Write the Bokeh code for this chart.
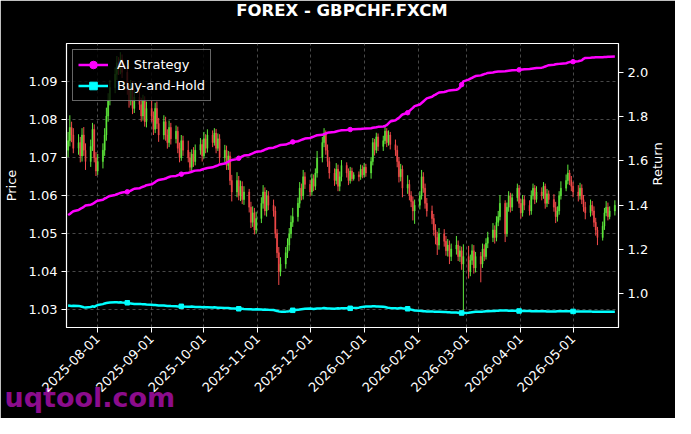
import numpy as np
import pandas as pd
from math import pi
from bokeh.plotting import figure
from bokeh.models import (Range1d, LinearAxis, FixedTicker, PrintfTickFormatter,
                          DatetimeTickFormatter, MonthsTicker, ColumnDataSource,
                          Legend, LegendItem, Title, Label)
from bokeh.embed import file_html
from bokeh.resources import INLINE

# ---------------- data ----------------
dates = pd.bdate_range("2025-07-15", "2026-05-25")

first_open = 1.0720
close = [
    1.0745, 1.0780, 1.0760, 1.0725,
    1.0740, 1.0705, 1.0760, 1.0720, 1.0690,
    1.0730, 1.0775, 1.0700, 1.0665, 1.0690,
    1.0720, 1.0760, 1.0810, 1.0850, 1.0885,
    1.0920, 1.0950, 1.0935, 1.0960, 1.0925,
    1.0880, 1.0850, 1.0890, 1.0830, 1.0860,
    1.0840, 1.0810, 1.0850, 1.0795, 1.0830,
    1.0810, 1.0775, 1.0830, 1.0790, 1.0760,
    1.0795, 1.0760, 1.0740, 1.0780, 1.0750,
    1.0770, 1.0725, 1.0700, 1.0745, 1.0720,
    1.0700, 1.0675, 1.0710, 1.0690, 1.0720,
    1.0735, 1.0705, 1.0750, 1.0725, 1.0760,
    1.0740, 1.0765, 1.0725, 1.0750, 1.0700,
    1.0720, 1.0680, 1.0705, 1.0640, 1.0610,
    1.0640, 1.0600, 1.0625, 1.0590, 1.0610,
    1.0570, 1.0530, 1.0555, 1.0510, 1.0540,
    1.0580, 1.0610, 1.0560, 1.0600, 1.0575,
    1.0560, 1.0500, 1.0450, 1.0400, 1.0420,
    1.0450, 1.0470, 1.0500, 1.0530, 1.0545,
    1.0580, 1.0620, 1.0600, 1.0650, 1.0630,
    1.0610, 1.0645, 1.0625, 1.0660, 1.0700,
    1.0740, 1.0765, 1.0720, 1.0690, 1.0660,
    1.0640, 1.0670, 1.0625, 1.0650, 1.0680,
    1.0660, 1.0640, 1.0665, 1.0645, 1.0655,
    1.0650, 1.0670, 1.0655, 1.0675, 1.0660,
    1.0690, 1.0740, 1.0720, 1.0755, 1.0730,
    1.0745, 1.0770, 1.0740, 1.0760, 1.0735,
    1.0720, 1.0690, 1.0650, 1.0670, 1.0620,
    1.0630, 1.0600, 1.0585, 1.0560, 1.0575,
    1.0600, 1.0650, 1.0620, 1.0580, 1.0560,
    1.0540, 1.0510, 1.0490, 1.0470, 1.0500,
    1.0480, 1.0455, 1.0470, 1.0440, 1.0460,
    1.0470, 1.0440, 1.0455, 1.0420, 1.0440,
    1.0400, 1.0430, 1.0455, 1.0410, 1.0440,
    1.0420, 1.0460, 1.0440, 1.0475, 1.0490,
    1.0510, 1.0490, 1.0530, 1.0545, 1.0580,
    1.0500, 1.0570, 1.0600, 1.0570, 1.0595,
    1.0620, 1.0580, 1.0555, 1.0590, 1.0575,
    1.0560, 1.0600, 1.0620, 1.0590, 1.0610,
    1.0600, 1.0625, 1.0580, 1.0605, 1.0590,
    1.0570, 1.0545, 1.0560, 1.0600, 1.0620,
    1.0640, 1.0660, 1.0640, 1.0625, 1.0610,
    1.0600, 1.0620, 1.0590, 1.0570, 1.0555,
    1.0575, 1.0560, 1.0530, 1.0510, 1.0490,
    1.0520, 1.0555, 1.0570, 1.0545, 1.0560,
    1.0575,
]
high = [
    1.0768, 1.0812, 1.0795, 1.0778,
    1.0762, 1.0755, 1.0778, 1.0781, 1.0738,
    1.0748, 1.0792, 1.0788, 1.0715, 1.0710,
    1.0738, 1.0778, 1.0832, 1.0870, 1.0905,
    1.0938, 1.0968, 1.0965, 1.0978, 1.0972,
    1.0940, 1.0895, 1.0905, 1.0902, 1.0878,
    1.0875, 1.0858, 1.0866, 1.0862, 1.0848,
    1.0852, 1.0822, 1.0845, 1.0848, 1.0805,
    1.0812, 1.0808, 1.0775, 1.0798, 1.0792,
    1.0785, 1.0782, 1.0740, 1.0760, 1.0758,
    1.0745, 1.0715, 1.0722, 1.0728, 1.0735,
    1.0752, 1.0748, 1.0768, 1.0762, 1.0775,
    1.0772, 1.0778, 1.0776, 1.0764, 1.0762,
    1.0734, 1.0732, 1.0718, 1.0716, 1.0655,
    1.0662, 1.0652, 1.0640, 1.0638, 1.0625,
    1.0618, 1.0584, 1.0572, 1.0568, 1.0558,
    1.0596, 1.0628, 1.0622, 1.0615, 1.0612,
    1.0590, 1.0572, 1.0512, 1.0465, 1.0438,
    1.0465, 1.0488, 1.0515, 1.0548, 1.0568,
    1.0595, 1.0636, 1.0632, 1.0668, 1.0662,
    1.0642, 1.0658, 1.0656, 1.0672, 1.0718,
    1.0755, 1.0778, 1.0772, 1.0735, 1.0702,
    1.0672, 1.0686, 1.0682, 1.0664, 1.0694,
    1.0688, 1.0672, 1.0676, 1.0674, 1.0662,
    1.0664, 1.0682, 1.0680, 1.0686, 1.0684,
    1.0702, 1.0752, 1.0750, 1.0766, 1.0764,
    1.0758, 1.0786, 1.0778, 1.0772, 1.0768,
    1.0748, 1.0732, 1.0702, 1.0684, 1.0680,
    1.0654, 1.0642, 1.0612, 1.0598, 1.0590,
    1.0612, 1.0668, 1.0662, 1.0632, 1.0594,
    1.0574, 1.0552, 1.0525, 1.0505, 1.0515,
    1.0512, 1.0494, 1.0486, 1.0482, 1.0474,
    1.0494, 1.0482, 1.0468, 1.0466, 1.0472,
    1.0468, 1.0445, 1.0472, 1.0470, 1.0452,
    1.0452, 1.0474, 1.0472, 1.0488, 1.0505,
    1.0528, 1.0522, 1.0546, 1.0560, 1.0602,
    1.0588, 1.0582, 1.0612, 1.0608, 1.0606,
    1.0632, 1.0628, 1.0592, 1.0602, 1.0600,
    1.0588, 1.0614, 1.0632, 1.0628, 1.0625,
    1.0622, 1.0636, 1.0632, 1.0618, 1.0614,
    1.0604, 1.0584, 1.0572, 1.0612, 1.0638,
    1.0656, 1.0682, 1.0668, 1.0652, 1.0636,
    1.0628, 1.0634, 1.0630, 1.0602, 1.0584,
    1.0590, 1.0586, 1.0572, 1.0542, 1.0518,
    1.0532, 1.0568, 1.0586, 1.0582, 1.0572,
    1.0588,
]
low = [
    1.0702, 1.0730, 1.0741, 1.0712,
    1.0708, 1.0688, 1.0690, 1.0705, 1.0668,
    1.0676, 1.0718, 1.0688, 1.0652, 1.0655,
    1.0672, 1.0705, 1.0745, 1.0795, 1.0838,
    1.0870, 1.0905, 1.0918, 1.0920, 1.0910,
    1.0866, 1.0832, 1.0838, 1.0815, 1.0818,
    1.0826, 1.0795, 1.0798, 1.0782, 1.0780,
    1.0795, 1.0760, 1.0765, 1.0776, 1.0742,
    1.0748, 1.0745, 1.0724, 1.0728, 1.0735,
    1.0738, 1.0712, 1.0688, 1.0692, 1.0705,
    1.0688, 1.0662, 1.0664, 1.0676, 1.0680,
    1.0708, 1.0690, 1.0698, 1.0712, 1.0714,
    1.0728, 1.0732, 1.0712, 1.0718, 1.0686,
    1.0688, 1.0668, 1.0668, 1.0628, 1.0585,
    1.0596, 1.0588, 1.0586, 1.0578, 1.0576,
    1.0556, 1.0515, 1.0518, 1.0498, 1.0500,
    1.0528, 1.0566, 1.0548, 1.0545, 1.0562,
    1.0545, 1.0488, 1.0436, 1.0365, 1.0388,
    1.0408, 1.0436, 1.0455, 1.0488, 1.0518,
    1.0532, 1.0568, 1.0588, 1.0590, 1.0618,
    1.0598, 1.0600, 1.0612, 1.0615, 1.0648,
    1.0688, 1.0728, 1.0708, 1.0676, 1.0645,
    1.0626, 1.0630, 1.0612, 1.0612, 1.0638,
    1.0648, 1.0628, 1.0632, 1.0638, 1.0640,
    1.0638, 1.0642, 1.0646, 1.0648, 1.0650,
    1.0645, 1.0680, 1.0706, 1.0712, 1.0718,
    1.0718, 1.0736, 1.0728, 1.0732, 1.0722,
    1.0705, 1.0675, 1.0635, 1.0638, 1.0596,
    1.0605, 1.0588, 1.0570, 1.0535, 1.0526,
    1.0564, 1.0590, 1.0608, 1.0566, 1.0545,
    1.0525, 1.0495, 1.0472, 1.0444, 1.0458,
    1.0466, 1.0442, 1.0440, 1.0420, 1.0428,
    1.0445, 1.0428, 1.0426, 1.0405, 1.0295,
    1.0382, 1.0388, 1.0418, 1.0395, 1.0398,
    1.0372, 1.0410, 1.0428, 1.0432, 1.0462,
    1.0478, 1.0474, 1.0480, 1.0520, 1.0535,
    1.0478, 1.0492, 1.0558, 1.0556, 1.0560,
    1.0585, 1.0568, 1.0540, 1.0545, 1.0562,
    1.0548, 1.0550, 1.0590, 1.0578, 1.0582,
    1.0588, 1.0592, 1.0566, 1.0570, 1.0578,
    1.0558, 1.0528, 1.0532, 1.0550, 1.0590,
    1.0612, 1.0630, 1.0628, 1.0612, 1.0596,
    1.0585, 1.0590, 1.0578, 1.0558, 1.0538,
    1.0545, 1.0548, 1.0518, 1.0495, 1.0470,
    1.0482, 1.0510, 1.0546, 1.0535, 1.0538,
    1.0548,
]
strategy = [
    1.355, 1.360, 1.366, 1.372,
    1.378, 1.383, 1.387, 1.392, 1.398,
    1.402, 1.405, 1.410, 1.416, 1.420,
    1.424, 1.430, 1.433, 1.438, 1.441,
    1.446, 1.449, 1.452, 1.455, 1.457,
    1.460, 1.462, 1.466, 1.470, 1.474,
    1.476, 1.480, 1.483, 1.486, 1.490,
    1.494, 1.499, 1.504, 1.510, 1.514,
    1.518, 1.520, 1.524, 1.527, 1.530,
    1.532, 1.535, 1.538, 1.540, 1.543,
    1.546, 1.548, 1.551, 1.554, 1.556,
    1.558, 1.561, 1.564, 1.566, 1.568,
    1.571, 1.574, 1.577, 1.580, 1.584,
    1.588, 1.592, 1.596, 1.601, 1.604,
    1.608, 1.612, 1.616, 1.620, 1.624,
    1.627, 1.631, 1.634, 1.638, 1.641,
    1.644, 1.647, 1.651, 1.654, 1.657,
    1.660, 1.663, 1.666, 1.669, 1.672,
    1.674, 1.677, 1.680, 1.683, 1.686,
    1.689, 1.692, 1.695, 1.698, 1.701,
    1.704, 1.707, 1.710, 1.713, 1.716,
    1.718, 1.721, 1.724, 1.727, 1.729,
    1.731, 1.733, 1.735, 1.737, 1.739,
    1.740, 1.741, 1.742, 1.743, 1.743,
    1.744, 1.744, 1.745, 1.746, 1.747,
    1.748, 1.750, 1.751, 1.752, 1.754,
    1.756, 1.758, 1.762, 1.770, 1.778,
    1.784, 1.790, 1.795, 1.803, 1.810,
    1.818, 1.826, 1.833, 1.840, 1.848,
    1.855, 1.862, 1.869, 1.876, 1.883,
    1.890, 1.896, 1.900, 1.905, 1.909,
    1.912, 1.914, 1.917, 1.919, 1.920,
    1.922, 1.925, 1.932, 1.945, 1.960,
    1.968, 1.972, 1.976, 1.980, 1.984,
    1.987, 1.990, 1.993, 1.995, 1.998,
    2.000, 2.002, 2.003, 2.004, 2.005,
    2.006, 2.007, 2.008, 2.009, 2.010,
    2.011, 2.012, 2.013, 2.014, 2.015,
    2.016, 2.017, 2.018, 2.019, 2.020,
    2.022, 2.024, 2.027, 2.030, 2.033,
    2.035, 2.037, 2.038, 2.039, 2.040,
    2.042, 2.045, 2.047, 2.048, 2.049,
    2.051, 2.053, 2.055, 2.062, 2.066,
    2.067, 2.068, 2.068, 2.069, 2.069,
    2.069, 2.070, 2.070, 2.071, 2.071,
    2.072,
]
buy_hold = [
    0.946, 0.945, 0.944, 0.945,
    0.944, 0.942, 0.940, 0.938, 0.937,
    0.939, 0.942, 0.940, 0.944, 0.948,
    0.952, 0.955, 0.957, 0.958, 0.959,
    0.960, 0.960, 0.959, 0.960, 0.959,
    0.958, 0.956, 0.955, 0.954, 0.953,
    0.952, 0.952, 0.951, 0.951, 0.950,
    0.949, 0.948, 0.948, 0.947, 0.946,
    0.946, 0.945, 0.944, 0.944, 0.943,
    0.942, 0.941, 0.941, 0.942, 0.941,
    0.940, 0.940, 0.941, 0.940, 0.939,
    0.939, 0.938, 0.939, 0.938, 0.938,
    0.937, 0.938, 0.937, 0.936, 0.936,
    0.935, 0.934, 0.934, 0.933, 0.932,
    0.932, 0.931, 0.932, 0.931, 0.930,
    0.929, 0.929, 0.928, 0.928, 0.929,
    0.928, 0.927, 0.928, 0.927, 0.926,
    0.925, 0.923, 0.921, 0.919, 0.918,
    0.918, 0.919, 0.920, 0.922, 0.924,
    0.926, 0.928, 0.929, 0.930, 0.931,
    0.932, 0.931, 0.930, 0.931, 0.932,
    0.933, 0.934, 0.933, 0.932, 0.932,
    0.931, 0.932, 0.933, 0.932, 0.933,
    0.933, 0.932, 0.933, 0.934, 0.935,
    0.936, 0.938, 0.939, 0.940, 0.941,
    0.941, 0.942, 0.942, 0.941, 0.941,
    0.940, 0.939, 0.937, 0.935, 0.934,
    0.933, 0.932, 0.933, 0.934, 0.933,
    0.931, 0.929, 0.927, 0.925, 0.923,
    0.922, 0.921, 0.920, 0.920, 0.919,
    0.919, 0.918, 0.918, 0.917, 0.917,
    0.916, 0.916, 0.915, 0.915, 0.914,
    0.914, 0.913, 0.913, 0.912, 0.912,
    0.913, 0.914, 0.915, 0.916, 0.917,
    0.918, 0.918, 0.919, 0.920, 0.920,
    0.921, 0.921, 0.922, 0.922, 0.923,
    0.923, 0.923, 0.922, 0.922, 0.922,
    0.922, 0.921, 0.921, 0.921, 0.921,
    0.921, 0.920, 0.920, 0.920, 0.920,
    0.920, 0.920, 0.920, 0.919, 0.919,
    0.919, 0.919, 0.920, 0.920, 0.920,
    0.920, 0.920, 0.920, 0.920, 0.919,
    0.919, 0.919, 0.919, 0.919, 0.919,
    0.919, 0.918, 0.918, 0.918, 0.918,
    0.918, 0.918, 0.918, 0.918, 0.918,
    0.918,
]
price_ticks = [1.03, 1.04, 1.05, 1.06, 1.07, 1.08, 1.09]
return_ticks = [1.0, 1.2, 1.4, 1.6, 1.8, 2.0]
title_text = "FOREX - GBPCHF.FXCM"
series_names = ["AI Strategy", "Buy-and-Hold"]
watermark = "uqtool.com"

# ---------------- build ----------------
n = min(len(dates), len(close), len(high), len(low), len(strategy), len(buy_hold))
dates = dates[:n]
close = np.array(close[:n])
high = np.array(high[:n])
low = np.array(low[:n])
open_ = np.concatenate([[first_open], close[:-1]])
up = close >= open_
colors = np.where(up, "#5ee83c", "#f24a4a")

src = ColumnDataSource(dict(date=dates, high=high, low=low,
                            top=np.maximum(open_, close), bottom=np.minimum(open_, close),
                            color=colors))

FONT = "DejaVu Sans"
p = figure(x_axis_type="datetime", width=675, height=418,
           output_backend="svg", toolbar_location=None, title_location=None,
           x_range=Range1d(pd.Timestamp("2025-07-14 02:00"), pd.Timestamp("2026-05-27 02:00")),
           y_range=Range1d(1.0253, 1.1001),
           min_border_left=64, min_border_right=52, min_border_top=43, min_border_bottom=91,
           background_fill_color="black", border_fill_color="black")
p.outline_line_color = "white"
p.outline_line_width = 1.2

p.extra_y_ranges = {"ret": Range1d(0.8462, 2.1312)}

p.segment(x0="date", y0="low", x1="date", y1="high", line_color="color", line_width=1, source=src)
p.vbar(x="date", width=0.6 * 86400000, top="top", bottom="bottom",
       fill_color="color", line_color="color", line_width=0.5, source=src)

mk = slice(24, None, 23)
ls = p.line(dates, strategy[:n], line_color="#ff00ff", line_width=2.5, y_range_name="ret")
ms = p.scatter(dates[mk], strategy[:n][mk], marker="circle", size=4.5,
               fill_color="#ff00ff", line_color="#ff00ff", y_range_name="ret")
lb = p.line(dates, buy_hold[:n], line_color="#00ffff", line_width=2.5, y_range_name="ret")
mb = p.scatter(dates[mk], buy_hold[:n][mk], marker="square", size=4.5,
               fill_color="#00ffff", line_color="#00ffff", y_range_name="ret")

# right axis
ax2 = LinearAxis(y_range_name="ret", ticker=FixedTicker(ticks=return_ticks),
                 formatter=PrintfTickFormatter(format="%.1f"), axis_label="Return")
p.add_layout(ax2, "right")

p.xaxis.ticker = MonthsTicker(months=list(range(1, 13)))
p.xaxis.formatter = DatetimeTickFormatter(months="%Y-%m-%d", days="%Y-%m-%d")
p.xaxis.major_label_orientation = pi / 4
p.yaxis[0].ticker = FixedTicker(ticks=price_ticks)
p.yaxis[0].formatter = PrintfTickFormatter(format="%.2f")
p.yaxis[0].axis_label = "Price"

for ax in p.axis:
    ax.axis_line_color = "white"
    ax.major_tick_line_color = "white"
    ax.major_tick_out = 5
    ax.major_tick_in = 0
    ax.minor_tick_line_color = None
    ax.major_label_text_color = "white"
    ax.major_label_text_font = FONT
    ax.major_label_text_font_size = "13px"
    ax.major_label_standoff = 4
    ax.axis_label_text_color = "white"
    ax.axis_label_text_font = FONT
    ax.axis_label_text_font_size = "13px"
    ax.axis_label_text_font_style = "normal"
    ax.axis_label_standoff = 7
ax2.axis_label_standoff = 6
ax2.axis_label_orientation = pi / 2
p.xaxis.level = "overlay"

p.xgrid.grid_line_color = "#5a5a5a"
p.xgrid.grid_line_dash = "3 3"
p.xgrid.grid_line_width = 0.8
p.ygrid.grid_line_color = "#5a5a5a"
p.ygrid.grid_line_dash = "3 3"
p.ygrid.grid_line_width = 0.8

# title: a label in the top side panel (side panels are not clipped to the frame)
ttl = Label(x=275.5, y=33, x_units="screen", y_units="screen", text=title_text,
            text_font=FONT, text_font_size="16.5px", text_font_style="bold",
            text_color="white", text_align="center", text_baseline="middle")
p.add_layout(ttl, "above")

legend = Legend(items=[LegendItem(label=series_names[0], renderers=[ls, ms]),
                       LegendItem(label=series_names[1], renderers=[lb, mb])],
                location="top_left", margin=6, padding=5, spacing=2,
                glyph_width=30, glyph_height=19, label_height=19, label_standoff=9,
                label_text_font=FONT, label_text_font_size="13px", label_text_color="white",
                background_fill_color="black", background_fill_alpha=0.8,
                border_line_color="#cccccc", border_line_width=1)
p.add_layout(legend)

# watermark: a side-panel title (not clipped to the frame), pulled up over the tick labels
wm = Title(text=watermark, align="left", vertical_align="top", offset=-62, standoff=-35,
           text_font=FONT, text_font_size="27px", text_font_style="bold",
           text_color="#8c0c8c")
p.add_layout(wm, "below")

open("out.html", "w").write(file_html(p, INLINE))
